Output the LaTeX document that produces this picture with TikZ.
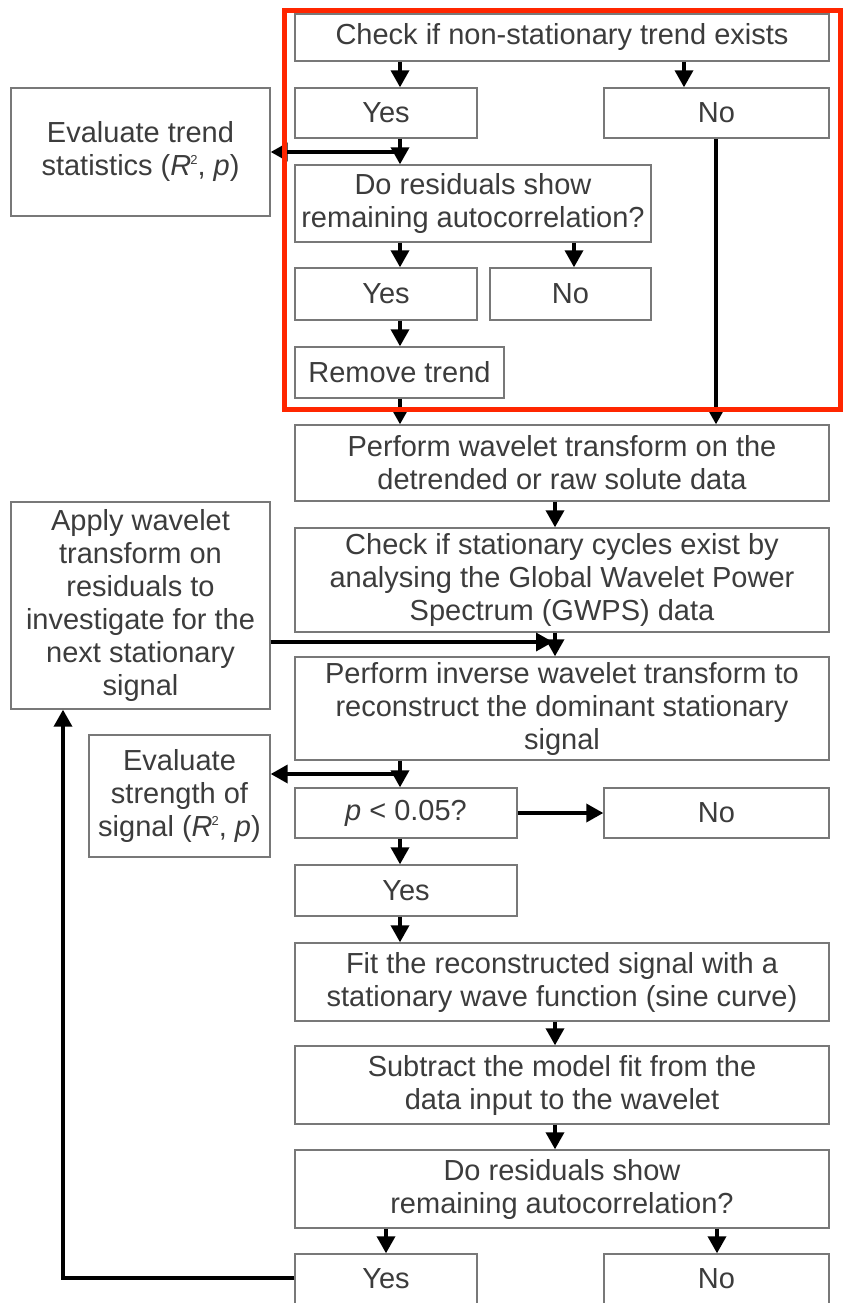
\documentclass[tikz,border=0pt]{standalone}
\usepackage{fontspec}
\setmainfont{Liberation Sans}
\usetikzlibrary{arrows.meta}
\definecolor{boxgray}{RGB}{120,120,120}
\definecolor{txtgray}{RGB}{60,60,60}
\definecolor{hired}{RGB}{255,38,0}
\newcommand{\Rsq}{\textit{R}\kern-1pt\raisebox{11pt}{\fontsize{13}{13}\selectfont 2}}
\begin{document}
\begin{tikzpicture}[x=1pt,y=-1pt,
  box/.style={draw=boxgray, line width=1.4pt, fill=white, inner sep=0pt, align=center, text=txtgray, font=\fontsize{29}{33}\selectfont},
  arr/.style={line width=3.5pt, -{Triangle[length=17pt,width=18pt]}},
  ln/.style={line width=3.5pt}]
\useasboundingbox (0,0) rectangle (843,1303);
% nodes
\node[box, minimum width=534pt, minimum height=47pt] (check) at (562,37.5) {Check if non-stationary trend exists};
\node[box, minimum width=182pt, minimum height=50pt] (yes1) at (386,113) {Yes};
\node[box, minimum width=225pt, minimum height=50pt] (no1) at (716.5,113) {No};
\node[box, minimum width=259pt, minimum height=128pt] (evaltrend) at (140.5,152) {Evaluate trend\\statistics (\Rsq, \textit{p})};
\node[box, minimum width=356pt, minimum height=77pt] (dores1) at (473,203.5) {Do residuals show\\remaining autocorrelation?};
\node[box, minimum width=182pt, minimum height=52pt] (yes2) at (386,294) {Yes};
\node[box, minimum width=161pt, minimum height=52pt] (no2) at (570.5,294) {No};
\node[box, minimum width=209pt, minimum height=51pt] (remove) at (399.5,372.5) {Remove trend};
\node[box, minimum width=534pt, minimum height=76pt] (wavelet) at (562,463) {Perform wavelet transform on the\\detrended or raw solute data};
\node[box, minimum width=534pt, minimum height=104pt] (cycles) at (562,580) {Check if stationary cycles exist by\\analysing the Global Wavelet Power\\Spectrum (GWPS) data};
\node[box, minimum width=259pt, minimum height=207pt] (apply) at (140.5,605.5) {Apply wavelet\\transform on\\residuals to\\investigate for the\\next stationary\\signal};
\node[box, minimum width=534pt, minimum height=103pt] (inverse) at (562,708.5) {Perform inverse wavelet transform to\\reconstruct the dominant stationary\\signal};
\node[box, minimum width=181pt, minimum height=122pt] (evalstr) at (179.5,796) {Evaluate\\strength of\\signal (\Rsq, \textit{p})};
\node[box, minimum width=222pt, minimum height=50pt] (pval) at (406,813) {\textit{p} < 0.05?};
\node[box, minimum width=225pt, minimum height=50pt] (no3) at (716.5,813) {No};
\node[box, minimum width=222pt, minimum height=51pt] (yes3) at (406,890.5) {Yes};
\node[box, minimum width=534pt, minimum height=78pt] (fit) at (562,982) {Fit the reconstructed signal with a\\stationary wave function (sine curve)};
\node[box, minimum width=534pt, minimum height=78pt] (subtract) at (562,1085) {Subtract the model fit from the\\data input to the wavelet};
\node[box, minimum width=534pt, minimum height=78pt] (dores2) at (562,1189) {Do residuals show\\remaining autocorrelation?};
\node[box, minimum width=182pt, minimum height=50pt] (yes4) at (386,1279) {Yes};
\node[box, minimum width=225pt, minimum height=50pt] (no4) at (716.5,1279) {No};
% helper coordinates
\coordinate (xa) at (400,0);
\coordinate (xb) at (684,0);
\coordinate (xc) at (574,0);
\coordinate (xd) at (555,0);
\coordinate (xe) at (716,0);
\coordinate (xf) at (386,0);
\coordinate (xg) at (717,0);
\coordinate (j1) at (400,152);
\coordinate (j2) at (553,642);
\coordinate (j3) at (400,774);
\coordinate (c3) at (63,1278);
% connectors
\draw[arr] (check.south -| xa) -- (yes1.north -| xa);
\draw[arr] (check.south -| xb) -- (no1.north -| xb);
\draw[arr] (yes1.south -| xa) -- (dores1.north -| xa);
\draw[arr] (j1) -- (evaltrend.east);
\draw[arr] (dores1.south -| xa) -- (yes2.north -| xa);
\draw[arr] (dores1.south -| xc) -- (no2.north -| xc);
\draw[arr] (yes2.south -| xa) -- (remove.north -| xa);
\draw[arr] (remove.south -| xa) -- (wavelet.north -| xa);
\draw[arr] (no1.south -| xe) -- (wavelet.north -| xe);
\draw[arr] (wavelet.south -| xd) -- (cycles.north -| xd);
\draw[arr] (cycles.south -| xd) -- (inverse.north -| xd);
\draw[arr] (apply.east |- j2) -- (j2);
\draw[arr] (inverse.south -| xa) -- (pval.north -| xa);
\draw[arr] (j3) -- (evalstr.east |- j3);
\draw[arr] (pval.east) -- (no3.west);
\draw[arr] (pval.south -| xa) -- (yes3.north -| xa);
\draw[arr] (yes3.south -| xa) -- (fit.north -| xa);
\draw[arr] (fit.south -| xd) -- (subtract.north -| xd);
\draw[arr] (subtract.south -| xd) -- (dores2.north -| xd);
\draw[arr] (dores2.south -| xf) -- (yes4.north -| xf);
\draw[arr] (dores2.south -| xg) -- (no4.north -| xg);
\draw[arr] (yes4.west |- c3) -- (c3) -- (c3 |- apply.south);
% highlight frame
\draw[hired, line width=5pt] (284,11) rectangle (840,409);
\end{tikzpicture}
\end{document}
